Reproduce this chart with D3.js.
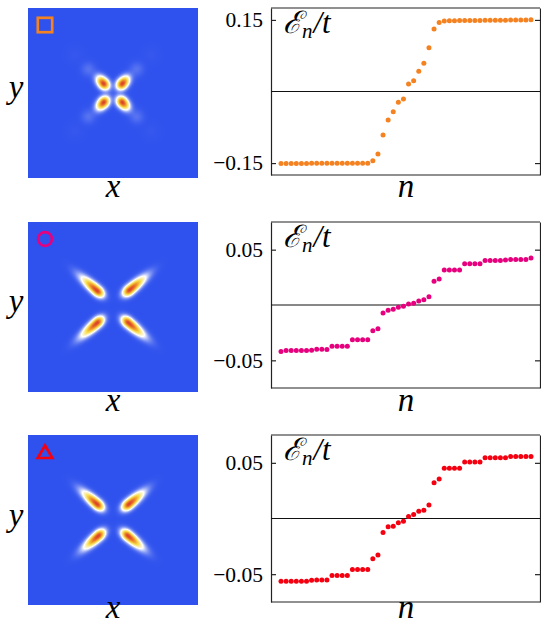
<!DOCTYPE html>
<html><head><meta charset="utf-8">
<script src="https://cdn.jsdelivr.net/npm/d3@7"></script>
<style>
html,body{margin:0;padding:0;background:#fff}
svg{display:block}
text{font-family:"Liberation Serif",serif;fill:#000}
.m{font-style:italic}
.axis path,.axis line{stroke:#222;stroke-width:1.2}
</style></head><body>
<script>
// Level values
const energiesA=[-0.1507,-0.1507,-0.1507,-0.1507,-0.1507,-0.1507,-0.1505,-0.1505,-0.1505,-0.1505,-0.1505,-0.1505,-0.1505,-0.1505,-0.1505,-0.1505,-0.1505,-0.1503,-0.145,-0.131,-0.0912,-0.0598,-0.0423,-0.0227,-0.0157,0.0157,0.0227,0.0423,0.059,0.0919,0.131,0.1444,0.148,0.1485,0.1485,0.1488,0.149,0.149,0.149,0.149,0.1492,0.1492,0.1495,0.1495,0.1495,0.15,0.15,0.15,0.15,0.1502];
const energiesB=[-0.0421,-0.0412,-0.0412,-0.0412,-0.0412,-0.0412,-0.0409,-0.04,-0.04,-0.0403,-0.0373,-0.0373,-0.0373,-0.0373,-0.0313,-0.0313,-0.0313,-0.0313,-0.0233,-0.0215,-0.0072,-0.0048,-0.0039,-0.0021,-0.0012,0.0009,0.0015,0.0036,0.0048,0.0075,0.0215,0.0236,0.0316,0.0316,0.0316,0.0316,0.0373,0.0373,0.0373,0.0373,0.0403,0.0403,0.0403,0.0403,0.0406,0.0412,0.0412,0.0412,0.0412,0.0424];
const energiesC=[-0.0564,-0.0564,-0.0564,-0.0564,-0.0564,-0.0564,-0.0555,-0.0552,-0.0552,-0.0552,-0.0513,-0.0513,-0.0513,-0.0513,-0.0457,-0.0457,-0.0457,-0.0457,-0.0361,-0.0328,-0.0125,-0.0075,-0.0069,-0.0039,-0.0024,0.0018,0.0036,0.0066,0.0075,0.0122,0.0322,0.0355,0.0451,0.0451,0.0451,0.0451,0.0507,0.0507,0.0507,0.0507,0.0546,0.0546,0.0546,0.0546,0.0546,0.0558,0.0558,0.0558,0.0558,0.0558];
const ticksA=[-0.15,0.15], ticksB=[-0.05,0.05], ticksC=[-0.05,0.05];
const limitA=0.175, limitB=0.075, limitC=0.075;
const colorsDots=["#f58220","#e6007e","#f40010"];

// Bright lobes of each density map: x, y, angle, outward spread, inward spread, cross spread, height
const lobesA=[
 [-0.11,0.11,132,0.066,0.05,0.04,1],[0.11,0.11,48,0.066,0.05,0.04,1],
 [-0.11,-0.11,228,0.066,0.05,0.04,1],[0.11,-0.11,312,0.066,0.05,0.04,1],
 [-0.29,0.28,135,0.055,0.055,0.055,0.05],[0.28,0.28,45,0.055,0.055,0.055,0.05],
 [-0.29,-0.28,225,0.055,0.055,0.055,0.05],[0.28,-0.28,315,0.055,0.055,0.055,0.05],
 [-0.45,0.45,135,0.07,0.07,0.07,0.008],[0.45,0.45,45,0.07,0.07,0.07,0.008],
 [-0.45,-0.45,225,0.07,0.07,0.07,0.008],[0.45,-0.45,315,0.07,0.07,0.07,0.008]
];
const lobesB=[
 [-0.185,0.19,139,0.15,0.06,0.038,1],[0.195,0.20,40,0.15,0.06,0.038,1],
 [-0.185,-0.185,221,0.15,0.06,0.038,1],[0.18,-0.185,320,0.15,0.06,0.038,1]
];
const lobesC=[
 [-0.185,0.185,139,0.14,0.06,0.038,1],[0.185,0.185,40,0.14,0.06,0.038,1],
 [-0.17,-0.185,221,0.14,0.06,0.038,1],[0.175,-0.185,320,0.14,0.06,0.038,1]
];
const colorStops=[0,0.27,0.55,0.8,1];
const colorRamp=["#2f52ee","#ffffff","#f7dc4a","#ee8a2a","#d9432a"];

const W=541,H=625;
const panels=[
 {top:8,bottom:175,mapTop:8,e:energiesA,t:ticksA,lim:limitA,lobes:lobesA,col:colorsDots[0],marker:"square",xBase:197,yBase:98,nBase:197,labelBase:33},
 {top:222,bottom:388,mapTop:222,e:energiesB,t:ticksB,lim:limitB,lobes:lobesB,col:colorsDots[1],marker:"circle",xBase:411,yBase:312,nBase:411,labelBase:247},
 {top:435,bottom:602,mapTop:435,e:energiesC,t:ticksC,lim:limitC,lobes:lobesC,col:colorsDots[2],marker:"triangle",xBase:618,yBase:526,nBase:618,labelBase:460}
];
const svg=d3.select("body").append("svg").attr("width",W).attr("height",H);
const heatColor=d3.scaleLinear().domain(colorStops).range(colorRamp).clamp(true);
const mapSize=170,mapLeft=28;
const gx=d3.scaleLinear().domain([0,mapSize]).range([-1,1]);
const gy=d3.scaleLinear().domain([0,mapSize]).range([1,-1]);

function field(lobes,x,y){
  let s=0;
  for(const [cx,cy,ang,so,si,sp,a] of lobes){
    const r=ang*Math.PI/180, dx=x-cx, dy=y-cy;
    const u=dx*Math.cos(r)+dy*Math.sin(r), v=-dx*Math.sin(r)+dy*Math.cos(r);
    const su=u>0?so:si;
    s+=a*Math.exp(-0.5*(u*u/(su*su)+v*v/(sp*sp)));
  }
  return s;
}
function mapImage(lobes){
  const c=document.createElement("canvas");c.width=c.height=mapSize;
  const ctx=c.getContext("2d"),img=ctx.createImageData(mapSize,mapSize);
  for(let j=0;j<mapSize;j++)for(let i=0;i<mapSize;i++){
    const col=d3.rgb(heatColor(field(lobes,gx(i+.5),gy(j+.5)))),k=4*(j*mapSize+i);
    img.data[k]=col.r;img.data[k+1]=col.g;img.data[k+2]=col.b;img.data[k+3]=255;
  }
  ctx.putImageData(img,0,0);
  return c.toDataURL();
}
const left=271,right=540,dotL=281,dotR=531;
const fmt=v=>(v<0?"\u2212":"")+Math.abs(v).toFixed(2);

panels.forEach(p=>{
  svg.append("image").attr("x",mapLeft).attr("y",p.mapTop).attr("width",mapSize).attr("height",mapSize).attr("href",mapImage(p.lobes));
  const mk=svg.append("g").attr("fill","none").attr("stroke",p.col).attr("stroke-width",2.7);
  const mx=45,my=p.mapTop+17;
  if(p.marker==="square") mk.append("rect").attr("x",mx-7.2).attr("y",my-7.2).attr("width",14.4).attr("height",14.4);
  if(p.marker==="circle") mk.append("circle").attr("cx",mx).attr("cy",my).attr("r",6.9);
  if(p.marker==="triangle") mk.append("path").attr("d",d3.line()([[mx,my-6.5],[mx+7.3,my+6],[mx-7.3,my+6]])+"Z");
  svg.append("text").attr("class","m").attr("x",mapLeft+85).attr("y",p.xBase).attr("text-anchor","middle").attr("font-size",33).text("x");
  svg.append("text").attr("class","m").attr("x",16).attr("y",p.yBase).attr("text-anchor","middle").attr("font-size",33).text("y");

  const x=d3.scaleLinear().domain([0,p.e.length-1]).range([dotL,dotR]);
  const y=d3.scaleLinear().domain([-p.lim,p.lim]).range([p.bottom,p.top]);
  const al=d3.axisLeft(y).tickValues(p.t).tickFormat(fmt).tickSize(-5).tickSizeOuter(0).tickPadding(8);
  const ar=d3.axisRight(y).tickValues(p.t).tickFormat("").tickSize(-5).tickSizeOuter(0);
  const gl=svg.append("g").attr("class","axis").attr("transform",`translate(${left},0)`).call(al);
  gl.selectAll("text").attr("font-size",21.5).attr("font-family",'"Liberation Serif",serif').attr("fill","#111");
  svg.append("g").attr("class","axis").attr("transform",`translate(${right},0)`).call(ar);
  svg.append("line").attr("x1",left).attr("x2",right).attr("y1",p.top).attr("y2",p.top).attr("stroke","#222").attr("stroke-width",1.2);
  svg.append("line").attr("x1",left).attr("x2",right).attr("y1",p.bottom).attr("y2",p.bottom).attr("stroke","#222").attr("stroke-width",1.2);
  svg.append("line").attr("x1",left).attr("x2",right).attr("y1",y(0)).attr("y2",y(0)).attr("stroke","#111").attr("stroke-width",1);
  svg.append("g").selectAll("circle").data(p.e).join("circle").attr("cx",(d,i)=>x(i)).attr("cy",d=>y(d)).attr("r",2.5).attr("fill",p.col);
  const lab=svg.append("text").attr("x",283).attr("y",p.labelBase);
  lab.append("tspan").attr("font-family","'DejaVu Serif',serif").attr("font-style","italic").attr("font-size",31).text("\u2130");
  lab.append("tspan").attr("class","m").attr("font-size",21).attr("dy",5).text("n");
  lab.append("tspan").attr("class","m").attr("font-size",31).attr("dy",-5).attr("dx",1).text("/t");
  svg.append("text").attr("class","m").attr("x",406).attr("y",p.nBase).attr("text-anchor","middle").attr("font-size",33).text("n");
});
</script></body></html>
